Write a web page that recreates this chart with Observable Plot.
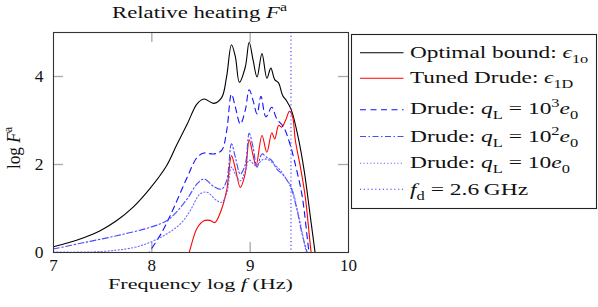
<!DOCTYPE html>
<html><head><meta charset="utf-8">
<script src="https://cdn.jsdelivr.net/npm/d3@7"></script>
<script src="https://cdn.jsdelivr.net/npm/@observablehq/plot@0.6"></script>
<style>
body{margin:0;background:#fff}
#wrap{position:relative;width:598px;height:307px}
#over{position:absolute;left:0;top:0}
</style>
</head><body><div id="wrap"></div>
<script>
// ---- data (log10 frequency in Hz, log10 F^a) ----
const boundX = [7.0,7.15,7.3,7.47,7.64,7.81,7.98,8.15,8.25,8.36,8.46,8.53,8.63,8.71,8.76,8.81,8.85,8.89,8.95,8.99,9.03,9.07,9.12,9.17,9.21,9.25,9.29,9.33,9.37,9.42,9.49,9.55,9.61,9.66,9.68];
const boundY = [0.13,0.22,0.33,0.49,0.72,1.03,1.45,1.97,2.43,2.92,3.38,3.49,3.39,3.52,3.99,4.72,4.44,3.87,4.21,4.78,4.37,3.99,4.52,3.96,4.19,3.93,3.85,3.57,3.45,3.23,2.6,1.85,0.85,0.0,-0.3];

const tunedX = [8.34,8.38,8.46,8.53,8.59,8.64,8.69,8.76,8.81,8.85,8.90,8.95,8.99,9.03,9.06,9.12,9.17,9.22,9.25,9.29,9.32,9.36,9.40,9.43,9.46,9.51,9.56,9.62,9.64];
const tunedY = [-0.3,0,0.55,0.72,0.73,0.68,0.87,1.4,2.20,1.90,1.48,1.80,2.56,2.20,1.97,2.66,2.28,2.72,2.58,2.89,2.85,3.0,3.21,3.1,2.54,1.95,1.27,0,-0.3];

const q3X = [7.94,8.1,8.22,8.36,8.46,8.53,8.63,8.71,8.76,8.81,8.85,8.90,8.95,8.99,9.03,9.07,9.11,9.16,9.22,9.27,9.34,9.40,9.47,9.53,9.60,9.62];
const q3Y = [-0.1,0.45,1.0,1.71,2.16,2.26,2.24,2.32,2.75,3.60,3.30,2.92,3.23,3.70,3.45,3.15,3.55,3.08,3.30,3.04,2.85,2.5,1.9,1.27,0,-0.2];

const q2X = [7.0,7.3,7.64,7.98,8.15,8.25,8.36,8.46,8.53,8.63,8.71,8.76,8.81,8.85,8.90,8.95,8.99,9.03,9.07,9.12,9.17,9.22,9.27,9.34,9.41,9.47,9.53,9.58,9.6];
const q2Y = [0.08,0.22,0.38,0.57,0.72,0.92,1.22,1.56,1.67,1.50,1.44,1.63,2.47,2.16,1.78,2.0,2.71,2.39,1.94,2.24,2.16,2.09,1.90,1.75,1.5,1.03,0.4,0,-0.2];

const q1X = [7.0,7.47,7.81,7.98,8.15,8.29,8.39,8.49,8.56,8.66,8.71,8.76,8.81,8.85,8.90,8.95,8.99,9.06,9.12,9.17,9.24,9.31,9.37,9.42,9.49,9.57,9.59];
const q1Y = [0.01,0.02,0.11,0.23,0.42,0.65,0.95,1.33,1.37,1.18,1.14,1.33,1.94,1.78,1.63,1.85,2.1,1.97,2.1,2.12,2.01,1.86,1.66,1.48,0.87,0,-0.2];

const fdGHz = 2.6;
const xTicks = [7, 8, 9, 10];
const yTicks = [0, 2, 4];

// ---- styles ----
const FONT = "'Liberation Serif', 'DejaVu Serif', serif";
const series = [
  {x: boundX, y: boundY, stroke: "#000000", dash: null,
   label: [{t:"Optimal bound: "},{t:"\u03F5",it:1},{t:"1o",sub:1}]},
  {x: tunedX, y: tunedY, stroke: "#ff0000", dash: null,
   label: [{t:"Tuned Drude: "},{t:"\u03F5",it:1},{t:"1D",sub:1}]},
  {x: q3X, y: q3Y, stroke: "#1010ff", dash: "6,4.5",
   label: [{t:"Drude: "},{t:"q",it:1},{t:"L",sub:1},{t:" = 10"},{t:"3",sup:1},{t:"e",it:1},{t:"0",sub:1}]},
  {x: q2X, y: q2Y, stroke: "#4a4aff", dash: "6,2.5,1.5,2.5",
   label: [{t:"Drude: "},{t:"q",it:1},{t:"L",sub:1},{t:" = 10"},{t:"2",sup:1},{t:"e",it:1},{t:"0",sub:1}]},
  {x: q1X, y: q1Y, stroke: "#6a6aff", dash: "1.2,2.2",
   label: [{t:"Drude: "},{t:"q",it:1},{t:"L",sub:1},{t:" = 10"},{t:"e",it:1},{t:"0",sub:1}]},
];
const fdStyle = {stroke: "#3a3aff", dash: "1.2,2.6",
  label: [{t:"f",it:1},{t:"d",sub:1},{t:" = 2.6\u2009GHz"}]};

const table = (xs, ys) => xs.map((x, i) => ({x, y: ys[i]}));
const innerX = xTicks.slice(1, -1);
const innerY = yTicks.filter(v => v > 0);
const tickStyle = {stroke: "#a8a8a8", strokeWidth: 1.3};

const plot = Plot.plot({
  width: 598, height: 307,
  marginLeft: 53, marginRight: 250, marginTop: 32, marginBottom: 55,
  x: {domain: [7, 10]},
  y: {domain: [0, 5]},
  style: {fontFamily: FONT, fontSize: "17px", color: "#111", background: "#fff"},
  marks: [
    Plot.tickX(innerX, {...tickStyle, insetTop: 210}),
    Plot.tickX(innerX, {...tickStyle, insetBottom: 210}),
    Plot.tickY(innerY, {...tickStyle, insetRight: 285}),
    Plot.tickY(innerY, {...tickStyle, insetLeft: 285}),
    ...series.map(s => Plot.line(table(s.x, s.y), {
      x: "x", y: "y", stroke: s.stroke, strokeWidth: 1.1,
      strokeDasharray: s.dash, curve: "catmull-rom", clip: true
    })),
    Plot.ruleX([Math.log10(fdGHz * 1e9)], {stroke: fdStyle.stroke, strokeWidth: 1.1, strokeDasharray: fdStyle.dash}),
    Plot.frame({stroke: "#333", strokeWidth: 1.1}),
    Plot.axisX(xTicks, {tickSize: 0, tickPadding: 6, label: null, fontSize: 17}),
    Plot.axisY(yTicks, {tickSize: 0, tickPadding: 10, label: null, fontSize: 17.5}),
  ]
});
const wrap = document.getElementById("wrap");
wrap.appendChild(plot);

// ---- overlay: title, axis labels, legend ----
const over = d3.select(wrap).append("svg").attr("id", "over")
  .attr("width", 598).attr("height", 307)
  .style("font-family", FONT).style("fill", "#111");

function mathText(segs, {x, y, size, anchor = "start", width = null, rotate = 0}) {
  const t = over.append("text").attr("font-size", size).attr("text-anchor", anchor);
  let shift = 0;
  for (const s of segs) {
    const target = s.sub ? 0.3 * size : s.sup ? -0.42 * size : 0;
    const sp = t.append("tspan").text(s.t).attr("dy", target - shift);
    shift = target;
    if (s.sub || s.sup) sp.attr("font-size", 0.7 * size);
    if (s.it) sp.attr("font-style", "italic");
  }
  let k = 1;
  if (width) { const w = t.node().getComputedTextLength(); if (w > 0) k = width / w; }
  t.attr("transform", `translate(${x},${y}) rotate(${rotate}) scale(${k},1)`);
  return t;
}

mathText([{t:"Relative heating "},{t:"F",it:1},{t:"a",sup:1}], {x: 199.5, y: 18.3, size: 17, anchor: "middle", width: 175});
mathText([{t:"Frequency log "},{t:"f",it:1},{t:" (Hz)"}], {x: 200.5, y: 289, size: 15, anchor: "middle", width: 185});
mathText([{t:"log "},{t:"F",it:1},{t:"a",sup:1}], {x: 19.5, y: 148, size: 18, anchor: "middle", width: 42, rotate: -90});

// legend
over.append("rect").attr("x", 351.5).attr("y", 34.5).attr("width", 245).attr("height", 174)
  .attr("fill", "none").attr("stroke", "#222").attr("stroke-width", 1.1);
const rows = [...series, fdStyle];
const baselines = [58, 83.3, 114, 142.3, 168.3, 195];
const swatchY = [52.7, 78.3, 109.8, 136.5, 163.3, 189.3];
const widths = [178.3, 163.3, 168.3, 168.3, 160, 118.3];
rows.forEach((r, i) => {
  over.append("line").attr("x1", 360).attr("x2", 403.5).attr("y1", swatchY[i]).attr("y2", swatchY[i])
    .attr("stroke", r.stroke).attr("stroke-width", 1.1).attr("stroke-dasharray", r.dash);
  mathText(r.label, {x: 410, y: baselines[i], size: 17, width: widths[i]});
});
</script>
</body></html>
